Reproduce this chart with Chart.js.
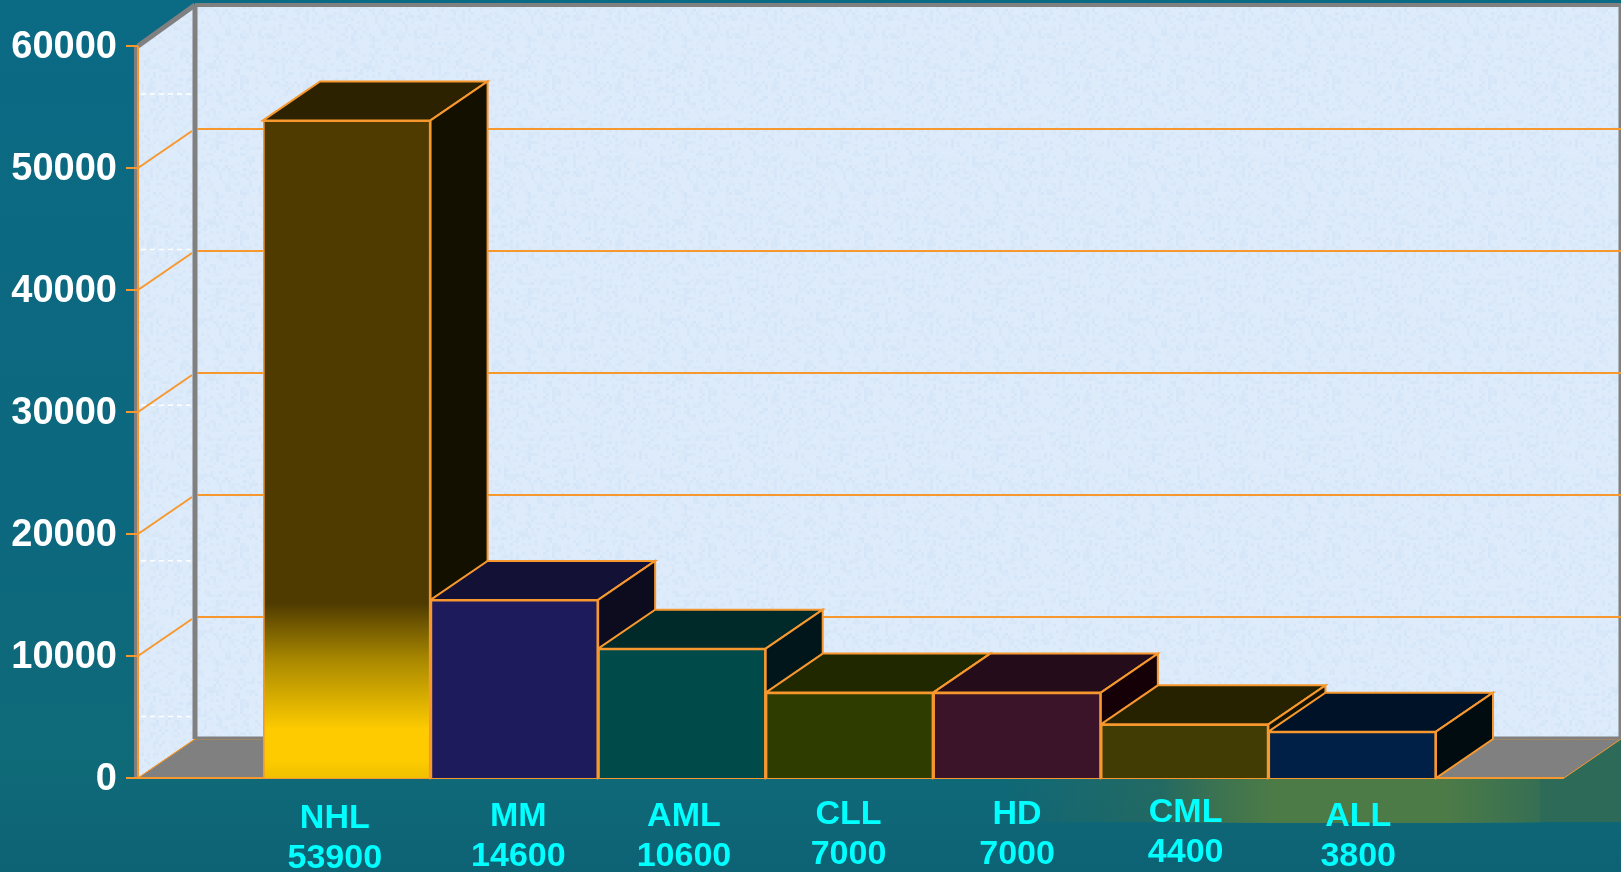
<!DOCTYPE html>
<html>
<head>
<meta charset="utf-8">
<title>Leukemia and lymphoma cases</title>
<script src="https://cdn.jsdelivr.net/npm/chart.js@4"></script>
<style>
html,body{margin:0;padding:0;width:1621px;height:872px;overflow:hidden}
body{
  background:
    linear-gradient(90deg,rgba(78,124,70,0) 0,rgba(78,124,70,.95) 30%,rgba(78,124,70,.95) 75%,rgba(78,124,70,.25) 100%) 1160px 778px/380px 45px no-repeat,
    linear-gradient(90deg,rgba(46,106,88,0) 0,rgba(46,106,88,1) 40%) 1000px 740px/621px 82px no-repeat,
    linear-gradient(180deg,#0b6a84 0,#0c687e 60%,#0f6a78 88%,#0d6274 100%);
}
canvas{display:block}
</style>
</head>
<body>
<canvas id="chart" width="1621" height="872"></canvas>
<script>
// -------- Data --------
const categories = ["NHL","MM","AML","CLL","HD","CML","ALL"];
const cases = [53900,14600,10600,7000,7000,4400,3800];
const yTicks = [0,10000,20000,30000,40000,50000,60000];

// -------- Colours --------
const faceColors = ["#4f3b00","#1e1b5c","#004a4a","#2f3c00","#3c142a","#403c04","#002048"];
const topColors = ["#2d2200","#131135","#002a2a","#202800","#240c1a","#262200","#001228"];
const sideColors = ["#141000","#0d0b1e","#00161a","#101400","#150008","#141200","#000c10"];
const orange = "#f7982f";
const grey = "#808080";

// -------- Layout of the fake 3D box --------
const depthX = 57, depthY = 39;
const padLeft = 125, padRight = 128;
// hand placed labels in the original slide
const labelNudgeX = [-12,4,2,-1,0,1,6];
const labelNudgeY = [4,2,2,0,0,-2,2];

function wallPattern(ctx){
  const c = document.createElement("canvas");
  c.width = c.height = 156;
  const p = c.getContext("2d");
  p.fillStyle = "#deebfa";
  p.fillRect(0,0,156,156);
  // small mottling, a fixed hash so every run looks the same
  for(let y=0;y<156;y+=3){
    for(let x=0;x<156;x+=3){
      const h = Math.sin(x*12.9898+y*78.233)*43758.5453;
      const v = h-Math.floor(h);
      if(v>.55){
        p.fillStyle = `rgba(190,218,244,${(v-.55)*.7})`;
        p.fillRect(x,y,3,3);
      }
    }
  }
  return ctx.createPattern(c,"repeat");
}

function poly(ctx,pts,fill,stroke,lw){
  ctx.beginPath();
  pts.forEach((p,i)=> i ? ctx.lineTo(p[0],p[1]) : ctx.moveTo(p[0],p[1]));
  ctx.closePath();
  if(fill){ctx.fillStyle=fill;ctx.fill();}
  if(stroke){ctx.strokeStyle=stroke;ctx.lineWidth=lw||2;ctx.stroke();}
}

function line(ctx,x1,y1,x2,y2,color,lw){
  ctx.beginPath();
  ctx.moveTo(x1,y1);
  ctx.lineTo(x2,y2);
  ctx.strokeStyle=color;
  ctx.lineWidth=lw;
  ctx.stroke();
}

// walls, floor and gridlines, then the tops and sides of the bars
const boxPlugin = {
  id:"box3d",
  beforeDatasetsDraw(chart){
    const ctx = chart.ctx, y = chart.scales.y, area = chart.chartArea;
    const left = area.left-padLeft, right = area.right+padRight;
    const y0 = y.getPixelForValue(0), yMax = y.getPixelForValue(60000);
    const pat = wallPattern(ctx);
    ctx.save();
    // back and side wall
    poly(ctx,[[left+depthX,yMax-depthY],[right+depthX,yMax-depthY],[right+depthX,y0-depthY],[left+depthX,y0-depthY]],pat);
    poly(ctx,[[left,yMax],[left+depthX,yMax-depthY],[left+depthX,y0-depthY],[left,y0]],pat);
    // texture streaks on the side wall
    ctx.setLineDash([5,4]);
    for(let py=94;py<y0-50;py+=155.6) line(ctx,left+3,py,left+depthX-3,py,"#ffffff",1.5);
    ctx.setLineDash([]);
    // floor
    poly(ctx,[[left,y0],[left+depthX,y0-depthY],[right+depthX,y0-depthY],[right,y0]],grey,orange,1);
    // frame
    line(ctx,left+depthX,yMax-depthY-2,right+depthX,yMax-depthY-2,grey,4);
    line(ctx,left+depthX,yMax-depthY,left+depthX,y0-depthY,grey,5);
    line(ctx,right+depthX-1,yMax-depthY,right+depthX-1,y0-depthY,grey,3);
    line(ctx,left,yMax,left+depthX,yMax-depthY-2,grey,5);
    line(ctx,left+depthX,y0-depthY-1,right+depthX,y0-depthY-1,grey,3);
    line(ctx,left-2,yMax,left-2,y0,grey,4);
    // gridlines and ticks
    yTicks.forEach(v=>{
      const py = y.getPixelForValue(v);
      if(v>0 && v<60000){
        line(ctx,left,py,left+depthX-3,py-depthY+2,orange,2);
        line(ctx,left+depthX+2,py-depthY,right+depthX,py-depthY,orange,2);
      }
      line(ctx,left-12,py,left,py,orange,2);
    });
    line(ctx,left,yMax,left,y0,orange,2);
    line(ctx,left-12,y0,right,y0,orange,2);
    line(ctx,left,y0,left+depthX,y0-depthY,orange,1);
    // bar tops and sides, left to right so the later ones sit in front
    chart.getDatasetMeta(0).data.forEach((bar,i)=>{
      const x1 = bar.x-bar.width/2, x2 = bar.x+bar.width/2;
      poly(ctx,[[x1,bar.y],[x1+depthX,bar.y-depthY],[x2+depthX,bar.y-depthY],[x2,bar.y]],topColors[i],orange,2);
      poly(ctx,[[x2,bar.y],[x2+depthX,bar.y-depthY],[x2+depthX,bar.base-depthY],[x2,bar.base]],sideColors[i],orange,2);
    });
    ctx.restore();
  },
  afterDatasetsDraw(chart){
    const ctx = chart.ctx, x = chart.scales.x, y = chart.scales.y;
    const y0 = y.getPixelForValue(0);
    ctx.save();
    ctx.fillStyle = "#00ffff";
    ctx.textAlign = "center";
    ctx.textBaseline = "middle";
    ctx.font = "bold 34px 'Liberation Sans'";
    categories.forEach((c,i)=>{
      const px = x.getPixelForTick(i)+labelNudgeX[i];
      ctx.fillText(c,px,y0+37+labelNudgeY[i]);
      ctx.fillText(String(cases[i]),px,y0+77+labelNudgeY[i]);
    });
    ctx.restore();
  }
};

new Chart(document.getElementById("chart"),{
  type:"bar",
  data:{
    labels:categories,
    datasets:[{
      data:cases,
      backgroundColor(c){
        const chart = c.chart;
        if(c.dataIndex!==0 || !chart.chartArea) return faceColors[c.dataIndex];
        const y = chart.scales.y;
        const top = y.getPixelForValue(14300), bottom = y.getPixelForValue(0);
        const g = chart.ctx.createLinearGradient(0,top,0,bottom);
        g.addColorStop(0,faceColors[0]);
        g.addColorStop(.33,"#ab8a00");
        g.addColorStop(.72,"#fdcb00");
        g.addColorStop(.9,"#fdcb00");
        g.addColorStop(1,"#f0c000");
        return g;
      },
      borderColor:orange,
      borderWidth:2,
      barPercentage:1,
      categoryPercentage:1
    }]
  },
  options:{
    responsive:false,
    animation:false,
    layout:{padding:{top:46,right:185,bottom:0,left:0}},
    plugins:{legend:{display:false},tooltip:{enabled:false}},
    scales:{
      x:{
        grid:{display:false,drawTicks:false},
        border:{display:false},
        ticks:{display:false},
        afterFit(s){s.height=94;}
      },
      y:{
        min:0,
        max:60000,
        afterBuildTicks(s){s.ticks=yTicks.map(v=>({value:v}));},
        grid:{display:false,drawTicks:false},
        border:{display:false},
        ticks:{
          color:"#ffffff",
          padding:146,
          labelOffset:2,
          font:{family:"'Liberation Sans'",size:38,weight:"bold"},
          callback:v=>String(v)
        },
        afterFit(s){s.width=263;s.paddingTop=0;s.paddingBottom=0;}
      }
    }
  },
  plugins:[boxPlugin]
});
</script>
</body>
</html>
